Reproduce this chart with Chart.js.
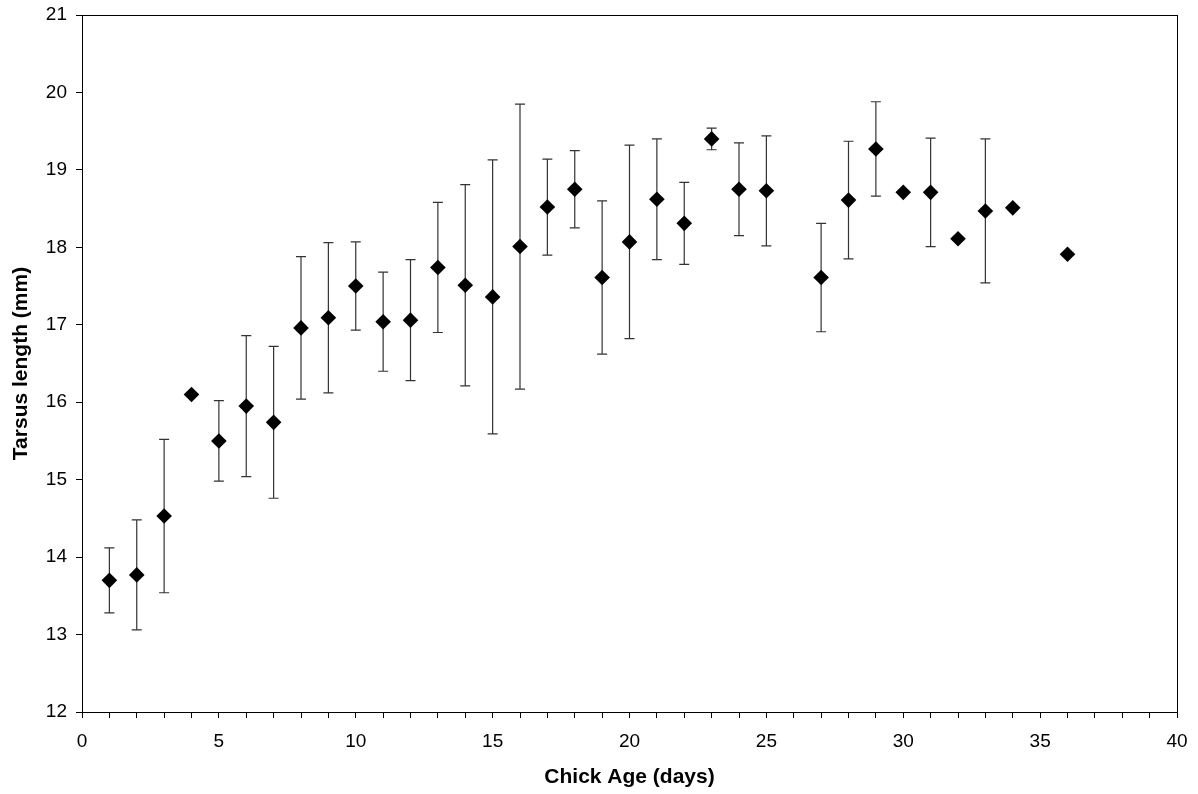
<html>
  <head>
    <script type="text/javascript" src="https://cdn.jsdelivr.net/npm/chart.js@4/dist/chart.umd.min.js"></script>
    <style>
      body { margin: 0; background: #fff; }
    </style>
  </head>
  <body>
    <canvas id="tarsus" width="1198" height="794"></canvas>
    <script type="text/javascript">

var ages       = [1, 2, 3, 4, 5, 6, 7, 8, 9, 10, 11, 12, 13, 14, 15, 16, 17, 18, 19, 20, 21, 22, 23, 24, 25, 27, 28, 29, 30, 31, 32, 33, 34, 36]
var tarsusMean = [13.70, 13.77, 14.53, 16.10, 15.50, 15.95, 15.74, 16.96, 17.09, 17.50, 17.04, 17.06, 17.74, 17.51, 17.36, 18.01, 18.52, 18.75, 17.61, 18.07, 18.62, 18.31, 19.40, 18.75, 18.73, 17.61, 18.61, 19.27, 18.71, 18.71, 18.11, 18.47, 18.51, 17.91]
var tarsusErr  = [0.42, 0.71, 0.99, 0, 0.52, 0.91, 0.98, 0.92, 0.97, 0.57, 0.64, 0.78, 0.84, 1.30, 1.77, 1.84, 0.62, 0.50, 0.99, 1.25, 0.78, 0.53, 0.14, 0.60, 0.71, 0.70, 0.76, 0.61, 0, 0.70, 0, 0.93, 0, 0]

var xMin = 0, xMax = 40, xLabelEvery = 5
var yMin = 12, yMax = 21

var font = "'Liberation Sans', Arial, Helvetica, sans-serif"

// error bars, drawn under the diamonds
var errorBars = {
  id: "errorBars",
  beforeDatasetsDraw: function(chart) {
    var ctx = chart.ctx
    var xs = chart.scales.x, ys = chart.scales.y
    ctx.save()
    ctx.strokeStyle = "#333"
    ctx.lineWidth = 1.2
    for (var i = 0; i < ages.length; i++) {
      if (!tarsusErr[i]) continue
      var px = xs.getPixelForValue(ages[i])
      var top = ys.getPixelForValue(tarsusMean[i] + tarsusErr[i])
      var bot = ys.getPixelForValue(tarsusMean[i] - tarsusErr[i])
      ctx.beginPath()
      ctx.moveTo(px, top); ctx.lineTo(px, bot)
      ctx.moveTo(px - 5, top); ctx.lineTo(px + 5, top)
      ctx.moveTo(px - 5, bot); ctx.lineTo(px + 5, bot)
      ctx.stroke()
    }
    ctx.restore()
  }
}

// frame round the plot area
var plotFrame = {
  id: "plotFrame",
  afterDraw: function(chart) {
    var a = chart.chartArea
    var ctx = chart.ctx
    ctx.save()
    ctx.strokeStyle = "#000"
    ctx.lineWidth = 1
    ctx.strokeRect(Math.round(a.left) + 0.5, Math.round(a.top) + 0.5, Math.round(a.right - a.left), Math.round(a.bottom - a.top))
    ctx.restore()
  }
}

function draw_scatter(element_id) {
  var ctx = document.getElementById(element_id).getContext("2d")
  var points = ages.map(function(a, i) { return {x: a, y: tarsusMean[i]} })

  var config = {
    type: "scatter",
    data: {
      datasets: [{
        data: points,
        pointStyle: "rectRot",
        pointRadius: 7.8,
        pointHoverRadius: 7.8,
        backgroundColor: "#000",
        borderColor: "#000",
        borderWidth: 0
      }]
    },
    options: {
      responsive: false,
      animation: false,
      events: [],
      layout: { padding: { left: 0, right: 21, top: 15, bottom: 0 } },
      plugins: { legend: { display: false }, tooltip: { enabled: false } },
      scales: {
        x: {
          type: "linear",
          min: xMin, max: xMax,
          afterFit: function(scale) { scale.height = 82; scale.paddingLeft = 0; scale.paddingRight = 0 },
          border: { display: true, color: "#000", width: 1 },
          grid: { drawOnChartArea: false, drawTicks: true, tickLength: 6, color: "#000" },
          ticks: {
            stepSize: 1, autoSkip: false, maxRotation: 0, padding: 12,
            color: "#000", font: { family: font, size: 19 },
            callback: function(v) { return v % xLabelEvery === 0 ? String(v) : "" }
          },
          title: {
            display: true, text: "Chick Age (days)", color: "#000",
            font: { family: font, size: 21, weight: "bold" },
            padding: { top: 0, bottom: 4 }
          }
        },
        y: {
          type: "linear",
          min: yMin, max: yMax,
          afterFit: function(scale) { scale.width = 82; scale.paddingTop = 0; scale.paddingBottom = 0 },
          border: { display: true, color: "#000", width: 1 },
          grid: { drawOnChartArea: false, drawTicks: true, tickLength: 6, color: "#000" },
          ticks: {
            stepSize: 1, padding: 9,
            color: "#000", font: { family: font, size: 19 }
          },
          title: {
            display: true, text: "Tarsus length (mm)", color: "#000",
            font: { family: font, size: 21, weight: "bold" },
            padding: { top: 9, bottom: 0 }
          }
        }
      }
    },
    plugins: [errorBars, plotFrame]
  }

  var chart = new Chart(ctx, config)
}

draw_scatter("tarsus")

    </script>
  </body>
</html>
